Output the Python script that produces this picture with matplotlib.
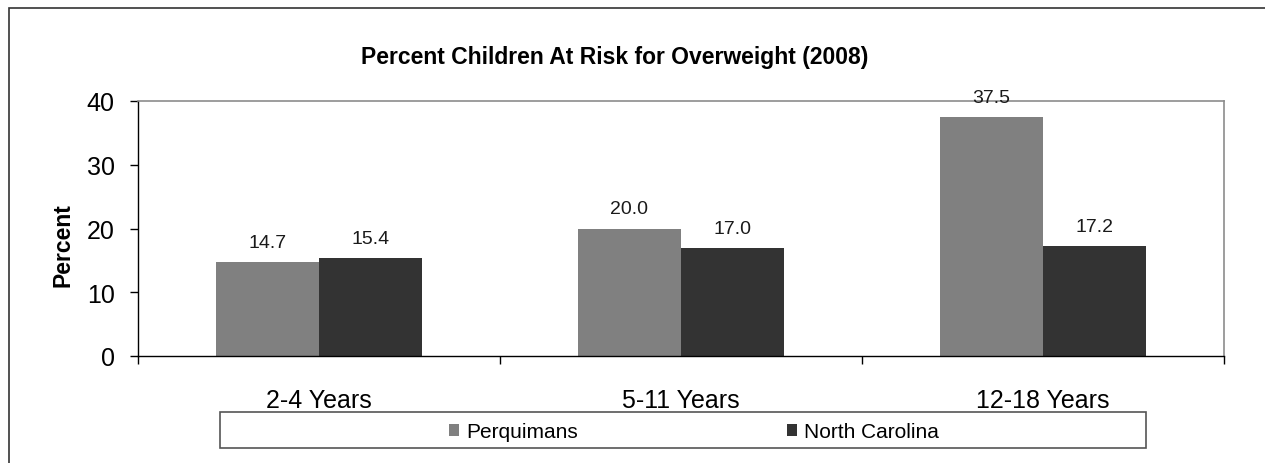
import matplotlib.pyplot as plt
from matplotlib.patches import Patch, Rectangle
import numpy as np

plt.rcParams['font.family'] = ['Liberation Sans', 'DejaVu Sans']

# data
categories = ['2-4 Years', '5-11 Years', '12-18 Years']
perquimans = [14.7, 20.0, 37.5]
north_carolina = [15.4, 17.0, 17.2]
series_names = ['Perquimans', 'North Carolina']
colors = ['#808080', '#333333']

W, H = 1265, 464
fig = plt.figure(figsize=(W / 100, H / 100), dpi=100)

# axes placement in pixels (left, top, right, bottom)
l, t, r, b = 138, 102, 1224, 357
ax = fig.add_axes([l / W, 1 - b / H, (r - l) / W, (b - t) / H])

x = np.arange(len(categories))
bw = 0.285
bars1 = ax.bar(x - bw / 2, perquimans, bw, color=colors[0], label=series_names[0])
bars2 = ax.bar(x + bw / 2, north_carolina, bw, color=colors[1], label=series_names[1])

for bars in (bars1, bars2):
    for rect in bars:
        h = rect.get_height()
        ax.annotate(f'{h:.1f}', (rect.get_x() + rect.get_width() / 2, h),
                    xytext=(0, 10.8), textcoords='offset points',
                    ha='center', va='baseline', fontsize=14, color='#1a1a1a')

ax.set_xlim(-0.5, len(categories) - 0.5)
ax.set_ylim(0, 40)
ax.set_yticks([0, 10, 20, 30, 40])
ax.tick_params(axis='y', direction='out', length=5.8, width=1, labelsize=18, pad=11)
ax.set_xticks(x)
ax.set_xticklabels(categories)
ax.set_xticks(np.arange(len(categories) + 1) - 0.5, minor=True)
ax.tick_params(axis='x', which='major', length=0, labelsize=18, pad=23)
ax.tick_params(axis='x', which='minor', direction='out', length=5.8, width=1)

ax.spines['left'].set_color('black')
ax.spines['bottom'].set_color('black')
ax.spines['left'].set_linewidth(1)
ax.spines['bottom'].set_linewidth(1)
ax.spines['top'].set_color('#8c8c8c')
ax.spines['right'].set_color('#8c8c8c')
ax.spines['top'].set_linewidth(1.2)
ax.spines['right'].set_linewidth(1.2)

fig.text(615 / W, 1 - 64 / H, 'Percent Children At Risk for Overweight (2008)',
         ha='center', va='baseline', fontsize=16.5, fontweight='bold')
fig.text(63 / W, 1 - 245 / H, 'Percent', rotation=90, ha='center', va='center',
         fontsize=16.5, fontweight='bold')

# outer chart border
fig.patches.append(Rectangle((9 / W, -0.1), 1.2, 1 - 9 / H + 0.1,
                             transform=fig.transFigure, fill=False,
                             edgecolor='#333333', linewidth=1.2))

# legend box
lx0, ly0, lx1, ly1 = 220, 413, 1146, 449
fig.patches.append(Rectangle((lx0 / W, 1 - ly1 / H), (lx1 - lx0) / W, (ly1 - ly0) / H,
                             transform=fig.transFigure, fill=False,
                             edgecolor='#555555', linewidth=1.2))
handles = [Patch(facecolor=c, edgecolor='none') for c in colors]
fig.legend(handles, series_names, ncol=2, frameon=False, fontsize=15,
           loc='center', bbox_to_anchor=(694 / W, 1 - 433 / H),
           handlelength=0.5, handleheight=0.5, handletextpad=0.35,
           columnspacing=10.0, borderpad=0)

fig.savefig('out.png', dpi=100)
